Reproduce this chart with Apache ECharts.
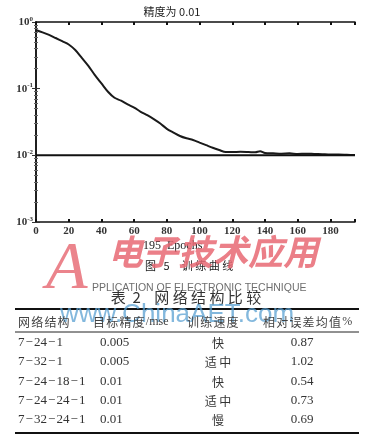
<!DOCTYPE html>
<html><head><meta charset="utf-8">
<script src="https://cdn.jsdelivr.net/npm/echarts@6/dist/echarts.min.js"></script>
<style>html,body{margin:0;padding:0;background:#fff}#c{width:367px;height:439px}</style>
</head><body><div id="c"></div>
<script>
// ---- chart data ----
const epochs = [0,4,8,12,16,20,24,28,32,36,40,44,48,52,56,60,64,68,72,76,80,84,88,92,96,100,104,108,112,116,120,125,130,134,137,140,145,150,155,160,165,170,175,180,185,190,195];
const mse    = [0.76,0.70,0.64,0.575,0.515,0.46,0.38,0.29,0.22,0.16,0.12,0.09,0.073,0.066,0.058,0.052,0.045,0.040,0.035,0.030,0.025,0.022,0.0195,0.018,0.017,0.0155,0.0142,0.013,0.0120,0.0112,0.0112,0.0113,0.0112,0.0111,0.0115,0.0108,0.0107,0.0106,0.0107,0.0105,0.0106,0.0105,0.0104,0.0103,0.0103,0.0102,0.0101];
const goal = 0.01;
const goalEpochs = [0, 195];
const xTicks = [0,20,40,60,80,100,120,140,160,180];
const chartTitle = '精度为 0.01';
const xTitle = '195  Epochs';
const figCaption = '图 5  训练曲线';
// ---- table data ----
const tableCaption = '表 2  网络结构比较';
const headers = ['网络结构','目标精度/mse','训练速度','相对误差均值%'];
const structures = ['7-24-1','7-32-1','7-24-18-1','7-24-24-1','7-32-24-1'];
const targets = ['0.005','0.005','0.01','0.01','0.01'];
const speeds = ['快','适中','快','适中','慢'];
const errors = ['0.87','1.02','0.54','0.73','0.69'];

const chart = echarts.init(document.getElementById('c'), null, {renderer:'canvas'});
const serif = '"Liberation Serif","DejaVu Serif",serif';
const cjk = '"Noto Sans CJK SC","Noto Sans CJK JP",sans-serif';

function yLabel(v){
  const e = Math.round(Math.log10(v));
  return '{b|10}{s|' + (e===0?'0':'-'+(-e)) + '}';
}
const axisLine = {show:true, lineStyle:{color:'#111', width:1.5}};
const ylab = {rich:{b:{fontFamily:serif,fontSize:11,fontWeight:'bold',color:'#333'},s:{fontFamily:serif,fontSize:7,fontWeight:'bold',color:'#333',verticalAlign:'top',padding:[0,0,6,0]}}};

const graphics = [];
graphics.push({type:'text', x:172, y:12, style:{text:chartTitle, font:'11px '+cjk, fill:'#222', align:'center', verticalAlign:'middle'}});
graphics.push({type:'text', x:143, y:246, style:{text:xTitle, font:'12px '+serif, fill:'#222', verticalAlign:'middle'}});
graphics.push({type:'text', x:145, y:266, style:{text:figCaption.split('').join(' '), font:'11px '+cjk, fill:'#222', verticalAlign:'middle'}});
// logo watermark
graphics.push({type:'text', x:46, y:236, style:{text:'A', font:'italic 68px '+serif, fill:'rgba(232,110,120,0.85)'}});
graphics.push({type:'text', x:108, y:234, style:{text:'电子技术应用', font:'italic bold 35px '+cjk, fill:'rgba(232,105,115,0.85)'}});
graphics.push({type:'text', x:92, y:288, style:{text:'PPLICATION OF ELECTRONIC TECHNIQUE', font:'10.5px "Liberation Sans",Arial,sans-serif', fill:'#6e6e6e', verticalAlign:'middle'}});
graphics.push({type:'text', x:186, y:297, style:{text:tableCaption.split('').join(' ').replace(/ {3}/g,'  '), font:'15px '+cjk, fill:'#333', align:'center', verticalAlign:'middle'}});
// table lines
graphics.push({type:'line', shape:{x1:15,y1:309,x2:359,y2:309}, style:{stroke:'#111', lineWidth:2}});
graphics.push({type:'line', shape:{x1:15,y1:332,x2:359,y2:332}, style:{stroke:'#222', lineWidth:1}});
graphics.push({type:'line', shape:{x1:15,y1:433,x2:359,y2:433}, style:{stroke:'#111', lineWidth:2}});
// site watermark
graphics.push({type:'text', x:60, y:315, style:{text:'www.ChinaAET.com', font:'26px "Liberation Sans",Arial,sans-serif', fill:'rgba(90,160,210,0.75)', verticalAlign:'middle'}, z:0});
// header: CJK characters placed with a fixed pitch
const hx = [18, 93, 187, 263];
const pitch = 13.2;
headers.forEach((h,i)=>{
  let x = hx[i];
  const m = h.match(/^([\u4e00-\u9fff]+)(.*)$/);
  const cj = m ? m[1] : h, rest = m ? m[2] : '';
  cj.split('').forEach(ch=>{
    graphics.push({type:'text', x:x, y:322, style:{text:ch, font:'12px '+cjk, fill:'#444', verticalAlign:'middle'}, z:10});
    x += pitch;
  });
  if (rest) graphics.push({type:'text', x:x, y:322, style:{text:rest, font:'12px '+serif, fill:'#444', verticalAlign:'middle'}, z:10});
});
const rowY = [343,362,382,401,420];
const fmtStruct = s => s.split('-').join('\u200A\u2212\u200A');
structures.forEach((s,i)=>{
  const y = rowY[i];
  graphics.push({type:'text', x:18, y:y, style:{text:fmtStruct(s), font:'13px '+serif, fill:'#333', verticalAlign:'middle'}});
  graphics.push({type:'text', x:100, y:y, style:{text:targets[i], font:'13px '+serif, fill:'#333', verticalAlign:'middle'}});
  graphics.push({type:'text', x:218, y:y, style:{text:speeds[i].split('').join(' '), font:'12px '+cjk, fill:'#333', align:'center', verticalAlign:'middle'}});
  graphics.push({type:'text', x:302, y:y, style:{text:errors[i], font:'13px '+serif, fill:'#333', align:'center', verticalAlign:'middle'}});
});

chart.setOption({
  animation:false,
  backgroundColor:'#fff',
  grid:{left:36, right:12, top:22, bottom:217, containLabel:false},
  xAxis:[{
    type:'value', min:0, max:195, interval:20,
    axisLine:axisLine,
    axisTick:{show:true, inside:true, length:3, lineStyle:{color:'#111',width:2}},
    axisLabel:{margin:4, fontFamily:serif, fontSize:11, fontWeight:'bold', color:'#333',
      formatter:v=> xTicks.indexOf(v)>=0 ? String(v) : ''},
    splitLine:{show:false}
  },{
    type:'value', position:'top', min:0, max:195, interval:20,
    axisLine:axisLine,
    axisTick:{show:true, inside:true, length:3, lineStyle:{color:'#111',width:2}},
    axisLabel:{show:false}, splitLine:{show:false}
  }],
  yAxis:[{
    type:'log', logBase:10, min:0.001, max:1,
    axisLine:axisLine,
    axisTick:{show:true, inside:true, length:4, lineStyle:{color:'#333'}},
    minorTick:{show:true, splitNumber:9, length:2, lineStyle:{color:'#666'}},
    axisLabel:{margin:3, formatter:v=>yLabel(v), ...ylab},
    splitLine:{show:false}
  },{
    type:'log', logBase:10, min:0.001, max:1, position:'right',
    axisLine:axisLine,
    axisTick:{show:true, inside:true, length:4, lineStyle:{color:'#333'}},
    minorTick:{show:true, splitNumber:9, length:2, lineStyle:{color:'#666'}},
    axisLabel:{show:false}, splitLine:{show:false}
  }],
  series:[{
    type:'line', data:epochs.map((e,i)=>[e,mse[i]]), showSymbol:false, smooth:0.3,
    lineStyle:{color:'#1a1a1a', width:2}
  },{
    type:'line', data:goalEpochs.map(e=>[e,goal]), showSymbol:false,
    lineStyle:{color:'#111', width:2}
  }],
  graphic:graphics
});
</script></body></html>
